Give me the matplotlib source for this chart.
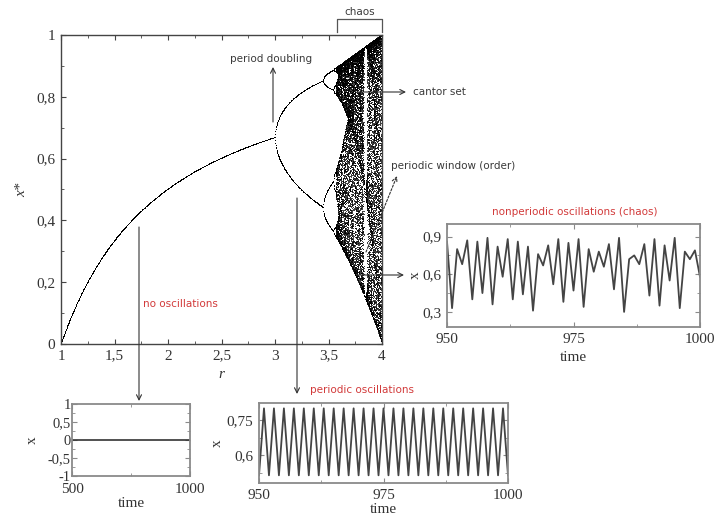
import numpy as np
import matplotlib
matplotlib.use("Agg")
import matplotlib.pyplot as plt
from matplotlib.ticker import MultipleLocator

# ---------------- data ----------------
# bifurcation diagram parameters (logistic map x -> r x (1-x))
r_min, r_max, n_r = 1.0, 4.0, 1100
n_transient, n_keep = 3000, 120

main_xticks = [1, 1.5, 2, 2.5, 3, 3.5, 4]
main_xticklabels = ["1", "1,5", "2", "2,5", "3", "3,5", "4"]
main_yticks = [0, 0.2, 0.4, 0.6, 0.8, 1]
main_yticklabels = ["0", "0,2", "0,4", "0,6", "0,8", "1"]

# no oscillations inset
noosc_time = [500, 1000]
noosc_x = [0, 0]
noosc_xticks = [500, 1000]
noosc_xticklabels = ["500", "1000"]
noosc_yticks = [-1, -0.5, 0, 0.5, 1]
noosc_yticklabels = ["-1", "-0,5", "0", "0,5", "1"]

# periodic oscillations inset (period 2)
per_time = list(range(950, 1001))
per_x = [0.513, 0.80, 0.513, 0.80, 0.513, 0.80, 0.513, 0.80, 0.513, 0.80,
         0.513, 0.80, 0.513, 0.80, 0.513, 0.80, 0.513, 0.80, 0.513, 0.80,
         0.513, 0.80, 0.513, 0.80, 0.513, 0.80, 0.513, 0.80, 0.513, 0.80,
         0.513, 0.80, 0.513, 0.80, 0.513, 0.80, 0.513, 0.80, 0.513, 0.80,
         0.513, 0.80, 0.513, 0.80, 0.513, 0.80, 0.513, 0.80, 0.513, 0.80,
         0.513]
per_xticks = [950, 975, 1000]
per_xticklabels = ["950", "975", "1000"]
per_yticks = [0.6, 0.75]
per_yticklabels = ["0,6", "0,75"]

# nonperiodic (chaos) inset
chaos_time = list(range(950, 1001))
chaos_x = [0.86, 0.33, 0.80, 0.68, 0.87, 0.40, 0.86, 0.45, 0.89, 0.36,
           0.82, 0.58, 0.88, 0.40, 0.86, 0.44, 0.82, 0.31, 0.76, 0.67,
           0.83, 0.52, 0.88, 0.38, 0.85, 0.47, 0.88, 0.34, 0.80, 0.62,
           0.78, 0.66, 0.84, 0.48, 0.89, 0.30, 0.72, 0.75, 0.68, 0.84,
           0.43, 0.88, 0.35, 0.83, 0.55, 0.89, 0.33, 0.78, 0.72, 0.79,
           0.58]
chaos_xticks = [950, 975, 1000]
chaos_xticklabels = ["950", "975", "1000"]
chaos_yticks = [0.3, 0.6, 0.9]
chaos_yticklabels = ["0,3", "0,6", "0,9"]

# ---------------- figure ----------------
W, H = 724, 523
fig = plt.figure(figsize=(W / 100, H / 100), dpi=100)
SERIF = ["Liberation Serif", "DejaVu Serif"]
SANS = ["DejaVu Sans"]
TXT = "#3a3a3a"
RED = "#d23a3a"


def px_axes(x0, y0, x1, y1):
    """axes from top-left pixel box"""
    return fig.add_axes([x0 / W, 1 - y1 / H, (x1 - x0) / W, (y1 - y0) / H])


def fp(x, y):
    return (x, H - y)


def style_axes(ax, spine_color="#555555", lw=1.0):
    for s in ax.spines.values():
        s.set_color(spine_color)
        s.set_linewidth(lw)
    ax.tick_params(which="both", direction="in", top=True, right=True,
                   colors=spine_color, labelcolor="#333333")
    ax.tick_params(which="major", length=3.5, width=0.8, pad=4)
    ax.tick_params(which="minor", length=2, width=0.6)
    for lab in ax.get_xticklabels() + ax.get_yticklabels():
        lab.set_fontfamily(SERIF)


# ----- main bifurcation diagram -----
ax = px_axes(61, 35, 382, 344)
r = np.linspace(r_min, r_max, n_r)
x = np.full_like(r, 0.5)
for _ in range(n_transient):
    x = r * x * (1 - x)
rs, xs = [], []
for _ in range(n_keep):
    x = r * x * (1 - x)
    rs.append(r.copy())
    xs.append(x.copy())
ax.plot(np.concatenate(rs), np.concatenate(xs), ",", color="black", alpha=0.75)
ax.set_xlim(1, 4)
ax.set_ylim(0, 1)
ax.set_xticks(main_xticks)
ax.set_xticklabels(main_xticklabels, fontsize=11)
ax.set_yticks(main_yticks)
ax.set_yticklabels(main_yticklabels, fontsize=11)
ax.xaxis.set_minor_locator(MultipleLocator(0.25))
ax.yaxis.set_minor_locator(MultipleLocator(0.1))
style_axes(ax, "#444444", 1.0)
ax.set_xlabel("r", fontsize=11, fontstyle="italic", family=SERIF, labelpad=4, color="#333333")
ax.set_ylabel("x*", fontsize=11, fontstyle="italic", family=SERIF, labelpad=6, color="#333333")

# ----- chaos inset -----
axc = px_axes(447, 224, 700, 327)
axc.plot(chaos_time, chaos_x, color="#444444", lw=1.3)
axc.set_xlim(950, 1000)
axc.set_ylim(0.18, 1.0)
axc.set_xticks(chaos_xticks)
axc.set_xticklabels(chaos_xticklabels, fontsize=11)
axc.set_yticks(chaos_yticks)
axc.set_yticklabels(chaos_yticklabels, fontsize=11)
axc.xaxis.set_minor_locator(MultipleLocator(12.5))
axc.yaxis.set_minor_locator(MultipleLocator(0.15))
style_axes(axc, "#8a8a8a", 1.3)
axc.set_xlabel("time", fontsize=11, family=SERIF, labelpad=4, color="#333333")
axc.set_ylabel("x", fontsize=11, family=SERIF, labelpad=0, color="#333333", rotation=90)

# ----- periodic inset -----
axp = px_axes(259, 403, 508, 483)
axp.plot(per_time, per_x, color="#444444", lw=1.3)
axp.set_xlim(950, 1000)
axp.set_ylim(0.48, 0.823)
axp.set_xticks(per_xticks)
axp.set_xticklabels(per_xticklabels, fontsize=11)
axp.set_yticks(per_yticks)
axp.set_yticklabels(per_yticklabels, fontsize=11)
axp.xaxis.set_minor_locator(MultipleLocator(12.5))
axp.yaxis.set_minor_locator(MultipleLocator(0.075))
style_axes(axp, "#8a8a8a", 1.3)
axp.set_xlabel("time", fontsize=11, family=SERIF, labelpad=1, color="#333333")
axp.set_ylabel("x", fontsize=11, family=SERIF, labelpad=2, color="#333333")

# ----- no oscillation inset -----
axn = px_axes(72, 404, 190, 476)
axn.plot(noosc_time, noosc_x, color="#333333", lw=1.2)
axn.set_xlim(500, 1000)
axn.set_ylim(-1, 1)
axn.set_xticks(noosc_xticks)
axn.set_xticklabels(noosc_xticklabels, fontsize=11)
axn.set_yticks(noosc_yticks)
axn.set_yticklabels(noosc_yticklabels, fontsize=10.5)
axn.xaxis.set_minor_locator(MultipleLocator(250))
axn.yaxis.set_minor_locator(MultipleLocator(0.25))
style_axes(axn, "#8a8a8a", 1.3)
axn.tick_params(axis="y", pad=1)
axn.tick_params(axis="x", pad=5)
axn.set_xlabel("time", fontsize=11, family=SERIF, labelpad=1, color="#333333")
axn.set_ylabel("x", fontsize=11, family=SERIF, labelpad=6, color="#333333")

# ----- annotations (figure pixel positions) -----
arrow_kw = dict(arrowstyle="->", color="#333333", lw=0.8, shrinkA=0, shrinkB=0)


def arrow(p0, p1, **kw):
    d = dict(arrow_kw)
    d.update(kw)
    fig.add_artist(matplotlib.patches.FancyArrowPatch(
        fp(*p0), fp(*p1), transform=None, mutation_scale=9, **d))


def label(x, y, s, color=TXT, ha="left", size=7.5):
    fig.text(x / W, 1 - y / H, s, color=color, ha=ha, va="center",
             fontsize=size, family=SANS)


arrow((139, 227), (139, 401))
arrow((297, 198), (297, 394))
arrow((273, 122), (273, 67))
arrow((357, 92), (406, 92))
arrow((357, 275), (404, 275))
arrow((366, 252), (397, 176), linestyle=(0, (2, 1.5)))

# chaos bracket
fig.add_artist(matplotlib.lines.Line2D(
    [337 / W, 337 / W, 382 / W, 382 / W],
    [1 - 32 / H, 1 - 19 / H, 1 - 19 / H, 1 - 32 / H],
    color="#555555", lw=0.9))

label(360, 12, "chaos", ha="center")
label(230, 59, "period doubling")
label(413, 92, "cantor set")
label(391, 166, "periodic window (order)")
label(575, 212, "nonperiodic oscillations (chaos)", color=RED, ha="center")
label(143, 304, "no oscillations", color=RED)
label(310, 390, "periodic oscillations", color=RED)

fig.savefig("out.png", dpi=100)
